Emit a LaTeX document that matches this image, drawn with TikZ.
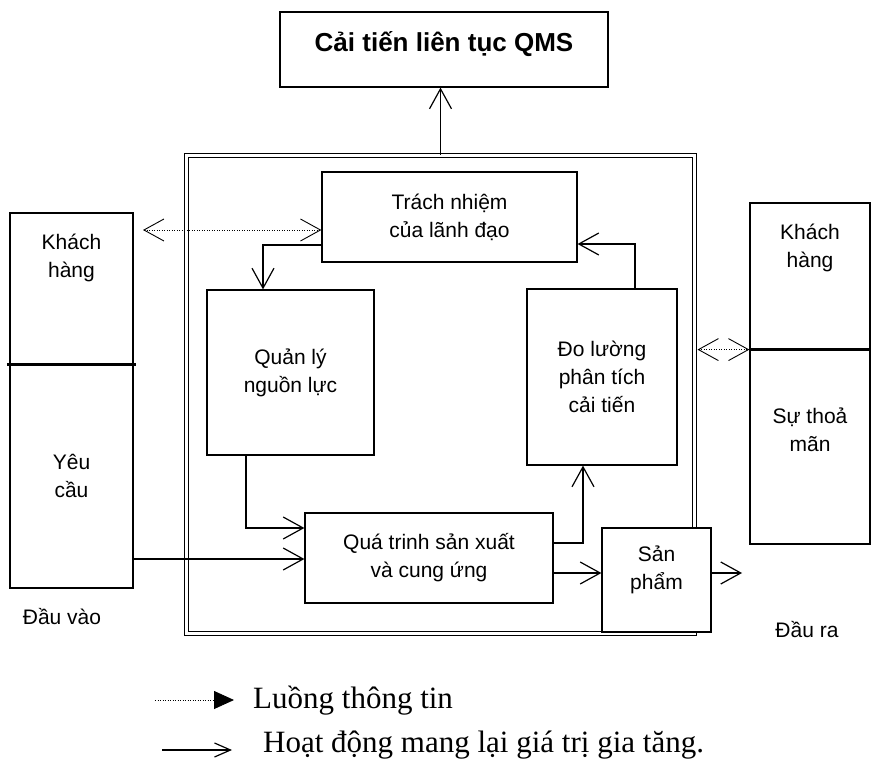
\documentclass[tikz,border=0pt]{standalone}
\usepackage{fontspec}
\setmainfont{Liberation Sans}
\newfontfamily\legendfont{Liberation Serif}
\usetikzlibrary{arrows.meta,calc}

\begin{document}
\begin{tikzpicture}[x=1pt,y=-1pt,
	>={Straight Barb[length=20pt,width=22pt]},
	box/.style={draw, line width=1.2pt, inner sep=0pt, align=center, font=\fontsize{21}{28}\selectfont},
	txt/.style={inner sep=0pt, align=center, font=\fontsize{21}{28}\selectfont},
	flow/.style={->, line width=1.2pt},
	info/.style={<->, line width=0.9pt, dash pattern=on 1pt off 1.5pt},
	legend/.style={inner sep=0pt, anchor=base west, font=\legendfont\fontsize{31}{31}\selectfont}]
	\useasboundingbox (0,0) rectangle (871,762);
	%frame
	\node[draw, double, double distance=3pt, line width=1pt, minimum width=508pt, minimum height=478pt] (frame) at (440.5,394.5) {};
	%top box
	\node[box, minimum width=328pt, minimum height=75pt, text depth=15pt, font=\bfseries\fontsize{26}{30}\selectfont] (qms) at (444,49.5) {Cải tiến liên tục QMS};
	%inner boxes
	\node[box, minimum width=255pt, minimum height=90pt] (lead) at (449.5,217) {Trách nhiệm\\của lãnh đạo};
	\node[box, minimum width=167pt, minimum height=165pt] (res) at (290.5,372.5) {Quản lý\\nguồn lực};
	\node[box, minimum width=150pt, minimum height=176pt] (meas) at (602,377) {Đo lường\\phân tích\\cải tiến};
	\node[box, minimum width=248pt, minimum height=90pt] (proc) at (429,558) {Quá trinh sản xuất\\và cung ứng};
	\node[box, fill=white, minimum width=109pt, minimum height=104pt] (prod) at (656.5,580) {};
	\node[txt] (prodt) at (656.5,570) {Sản\\phẩm};
	%customer boxes
	\node[box, minimum width=123pt, minimum height=151pt] (inkh) at (71.5,288.5) {};
	\node[box, minimum width=123pt, minimum height=224pt] (inyc) at (71.5,476) {Yêu\\cầu};
	\node[txt] (inkht) at (71.5,258) {Khách\\hàng};
	\node[box, minimum width=120pt, minimum height=146pt] (outkh) at (810,276) {};
	\node[box, minimum width=120pt, minimum height=195pt] (outtm) at (810,446.5) {};
	\node[txt] (outkht) at (810,247.5) {Khách\\hàng};
	\node[txt] (outtmt) at (810,430) {Sự thoả\\mãn};
	\draw[line width=3.5pt] ([xshift=-2pt]inkh.south west) -- ([xshift=2pt]inkh.south east);
	\draw[line width=3.5pt] (outkh.south west) -- (outkh.south east);
	\node[txt] (inlbl) at (62,617) {Đầu vào};
	\node[txt] (outlbl) at (807,630) {Đầu ra};
	%value flow
	\draw[flow] (frame.north) -- (frame.north |- qms.south);
	\draw[flow] ([yshift=-28pt]lead.west) -| ([xshift=-27.5pt]res.north);
	\draw[flow] ([xshift=33pt]meas.north) |- ([yshift=-27pt]lead.east);
	\draw[flow] ([xshift=-44.5pt]res.south) |- ([yshift=30pt]proc.west);
	\draw[flow] ([yshift=-83pt]inyc.east) -- ([yshift=-83pt]inyc.east -| proc.west);
	\draw[flow] ([yshift=15pt]proc.east) -| ([xshift=-19pt]meas.south);
	\draw[flow] ([yshift=-15pt]proc.east) -- ([yshift=-15pt]proc.east -| prod.west);
	\coordinate (outtip) at (742,573);
	\draw[flow] ([yshift=7pt]prod.east) -- (outtip);
	%information flow
	\coordinate (intip) at (143,230);
	\draw[info] (intip) -- ([yshift=-13pt]lead.west);
	\draw[info] ([xshift=2.5pt]frame.east |- outkh.south west) -- (outkh.south west);
	%legend
	\coordinate (l1a) at (155,700);
	\coordinate (l1b) at (234,700);
	\draw[line width=0.9pt, dash pattern=on 1pt off 1.5pt, -{Triangle[length=20pt,width=18pt]}] (l1a) -- (l1b);
	\node[legend] (l1) at (253,708) {Luồng thông tin};
	\coordinate (l2a) at (162,750);
	\coordinate (l2b) at (232,750);
	\draw[line width=1.2pt, -{Straight Barb[length=16pt,width=14pt]}] (l2a) -- (l2b);
	\node[legend] (l2) at (263,752) {Hoạt động mang lại giá trị gia tăng.};
\end{tikzpicture}
\end{document}
